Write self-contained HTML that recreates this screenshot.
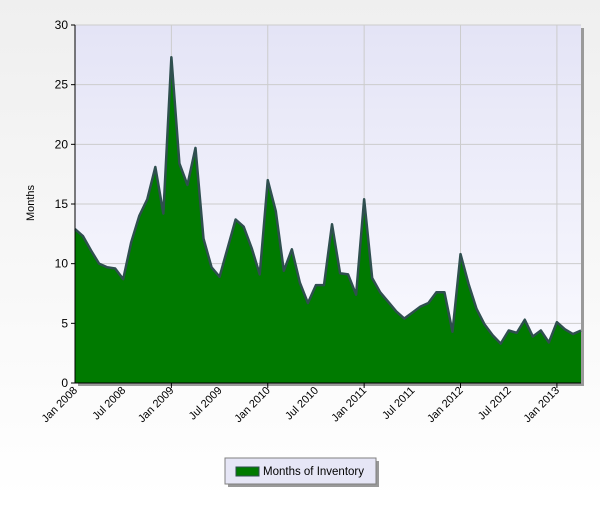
<!DOCTYPE html>
<html><head><meta charset="utf-8"><style>
body{margin:0;width:600px;height:500px;overflow:hidden;font-family:"Liberation Sans",sans-serif;}
</style></head><body>
<svg width="600" height="500" xmlns="http://www.w3.org/2000/svg">
<defs>
<linearGradient id="bg" x1="0" y1="0" x2="0" y2="1"><stop offset="0" stop-color="#efefef"/><stop offset="1" stop-color="#ffffff"/></linearGradient>
<linearGradient id="pbg" x1="0" y1="0" x2="0" y2="1"><stop offset="0" stop-color="#e4e4f6"/><stop offset="1" stop-color="#fbfbff"/></linearGradient>
</defs>
<rect width="600" height="500" fill="url(#bg)"/>
<rect x="78" y="28" width="506" height="358" fill="#9a9a9a"/>
<rect x="75" y="25" width="506" height="358" fill="url(#pbg)"/>
<g id="grid"></g>
<g id="series"></g>
<g id="axes"></g>
<text x="34" y="203" font-size="11" text-anchor="middle" transform="rotate(-90 34 203)">Months</text>
<g>
<rect x="228" y="461" width="151" height="26" fill="#999"/>
<rect x="225" y="458" width="151" height="26" fill="#e6e6f6" stroke="#808080"/>
<rect x="236" y="467" width="23" height="9" fill="#007a00" stroke="#2f4f4f"/>
<text x="263" y="475" font-size="11.5">Months of Inventory</text>
</g>
</svg>
<script>
const values=[12.9,12.3,11.1,10.0,9.7,9.6,8.7,11.8,14.0,15.4,18.1,14.2,27.3,18.4,16.6,19.7,12.1,9.7,8.9,11.3,13.7,13.1,11.3,9.1,17.0,14.4,9.4,11.2,8.4,6.7,8.2,8.2,13.3,9.2,9.1,7.4,15.4,8.8,7.6,6.8,6.0,5.4,5.9,6.4,6.7,7.6,7.6,4.3,10.8,8.3,6.2,4.9,4.0,3.3,4.4,4.2,5.3,3.9,4.4,3.4,5.1,4.5,4.1,4.4];
const yTicks=[0,5,10,15,20,25,30];
const xLabels=["Jan 2008","Jul 2008","Jan 2009","Jul 2009","Jan 2010","Jul 2010","Jan 2011","Jul 2011","Jan 2012","Jul 2012","Jan 2013"];
const NS="http://www.w3.org/2000/svg";
const L=75,R=581,T=25,B=383,YMAX=30;
const xs=i=>L+i*(R-L)/(values.length-1);
const ys=v=>B-v*(B-T)/YMAX;
function mk(tag,attrs,parent){const e=document.createElementNS(NS,tag);for(const k in attrs)e.setAttribute(k,attrs[k]);parent.appendChild(e);return e;}
const grid=document.getElementById('grid'),axes=document.getElementById('axes'),ser=document.getElementById('series');
yTicks.forEach(t=>{
 const y=ys(t);
 if(t>0){const g=mk('line',{x1:L,x2:R,y1:y,y2:y,stroke:'#cccccc'},grid);
 
 }
 const tk=mk('line',{x1:L-4,x2:L,y1:y,y2:y,stroke:'#000'},axes);
 
 
 const tx=mk('text',{x:L-7,y:y+4,'font-size':12,'text-anchor':'end'},axes);
 tx.textContent=t;
 
 
});
xLabels.forEach((lab,j)=>{
 const x=xs(j*6);
 if(j%2===0&&j>0){const g=mk('line',{x1:x,x2:x,y1:T,y2:B,stroke:'#cccccc'},grid);
 
 
 const tk=mk('line',{x1:x,x2:x,y1:B,y2:B+5,stroke:'#000'},axes);
 
 }
 const tx=mk('text',{x:x+3,y:B+8,'font-size':11,'text-anchor':'end',transform:`rotate(-45 ${x+3} ${B+8})`},axes);
 tx.textContent=lab;
 
 
});
let d=`M${L},${B}`;values.forEach((v,i)=>{d+=` L${xs(i).toFixed(2)},${ys(v).toFixed(2)}`;});d+=` L${R},${B} Z`;
const area=mk('path',{d:d,fill:'#007a00'},ser);


let ld='';values.forEach((v,i)=>{ld+=(i?' L':'M')+xs(i).toFixed(2)+','+ys(v).toFixed(2);});
const line=mk('path',{d:ld,fill:'none',stroke:'#2f4f4f','stroke-width':2.5,'stroke-linejoin':'round'},ser);


const ya=mk('line',{x1:L,x2:L,y1:T,y2:B,stroke:'#000'},axes);


const xa=mk('line',{x1:L,x2:R,y1:B,y2:B,stroke:'#000'},axes);


</script>
</body></html>
